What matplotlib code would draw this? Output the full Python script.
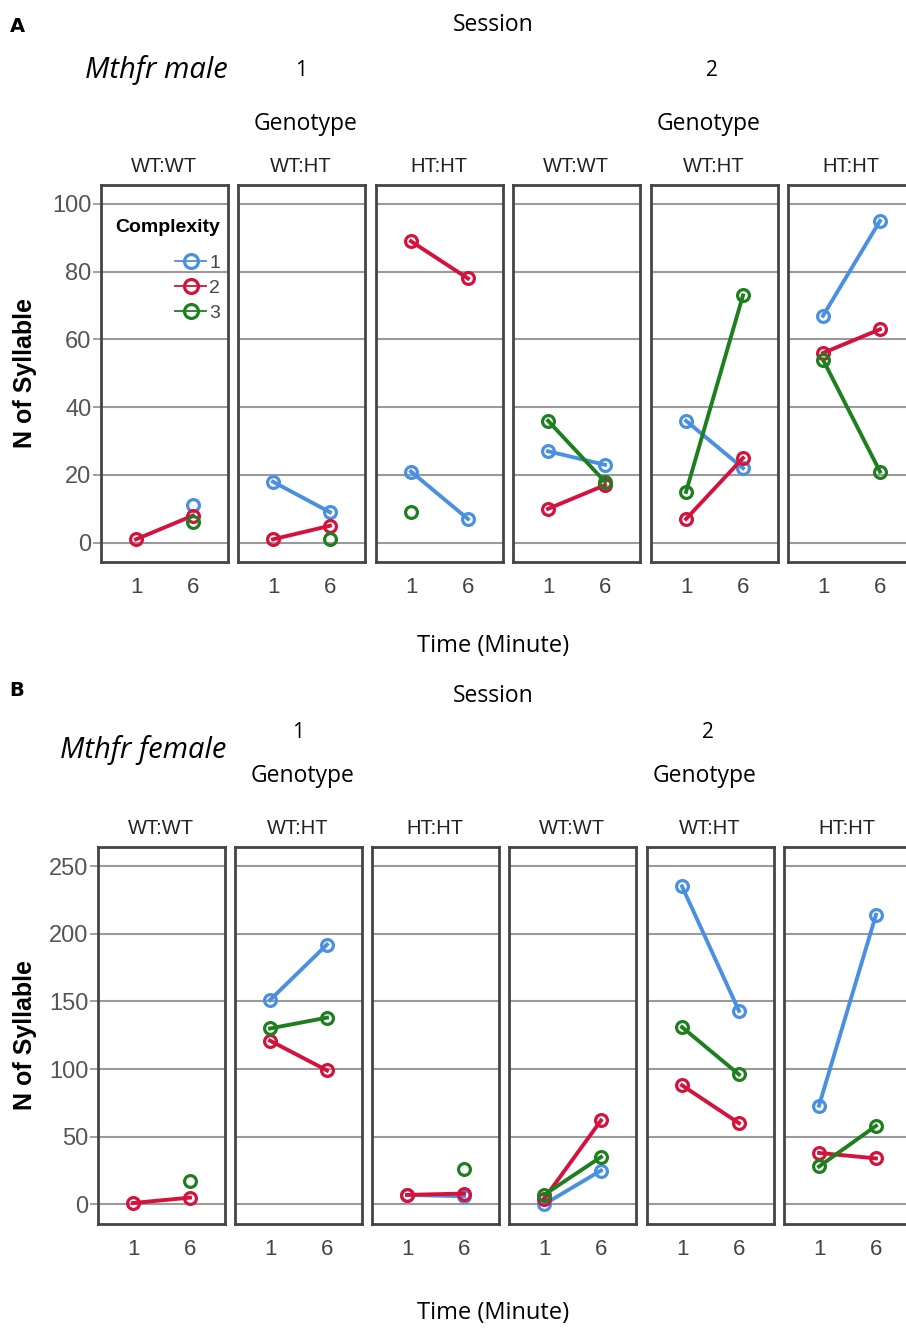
import numpy as np
import matplotlib
matplotlib.use("Agg")
import matplotlib.pyplot as plt
from matplotlib.lines import Line2D

nan = np.nan

# ---------------- data ----------------
genotypes = ["WT:WT", "WT:HT", "HT:HT", "WT:WT", "WT:HT", "HT:HT"]
sessions = ["1", "2"]
times = ["1", "6"]
complexity = ["1", "2", "3"]

# values at time 1 and time 6 for each of 6 panels (session 1: 3 genotypes, session 2: 3 genotypes)
male_c1 = [[nan, 11], [18, 9], [21, 7], [27, 23], [36, 22], [67, 95]]
male_c2 = [[1, 8], [1, 5], [89, 78], [10, 17], [7, 25], [56, 63]]
male_c3 = [[nan, 6], [nan, 1], [9, nan], [36, 18], [15, 73], [54, 21]]

female_c1 = [[nan, nan], [151, 192], [7, 6], [0, 25], [235, 143], [73, 214]]
female_c2 = [[1, 5], [121, 99], [7, 8], [4, 62], [88, 60], [38, 34]]
female_c3 = [[nan, 17], [130, 138], [nan, 26], [7, 35], [131, 96], [28, 58]]

male_yticks = [0, 20, 40, 60, 80, 100]
female_yticks = [0, 50, 100, 150, 200, 250]

colors = ["#4a90e2", "#d5123c", "#1d7f1d"]

W, H = 906, 1329
fig = plt.figure(figsize=(W / 100, H / 100), dpi=100)

NARROW = ["Liberation Sans Narrow", "Liberation Sans", "DejaVu Sans"]
CAL = ["Open Sans", "DejaVu Sans"]


def px_axes(left, top, width, height):
    return fig.add_axes([left / W, 1 - (top + height) / H, width / W, height / H])


def fx(x):
    return x / W


def fy(y):
    return 1 - y / H


def draw_block(series, lefts, top, bottom, ylim, yticks):
    axes = []
    for i, left in enumerate(lefts):
        ax = px_axes(left, top, 127, bottom - top)
        ax.set_xlim(-0.615, 1.615)
        ax.set_ylim(*ylim)
        for yt in yticks:
            ax.axhline(yt, color="#9a9a9a", lw=1.5, zorder=1)
        xs = np.arange(len(times))
        for c, vals in enumerate(series):
            v = np.array(vals[i], dtype=float)
            ax.plot(xs, v, color=colors[c], lw=2.8, marker="o", ms=8.5,
                    mfc="none", mec=colors[c], mew=2.3, zorder=3 + c)
        ax.set_xticks(xs)
        ax.set_xticklabels(times, fontsize=16, color="#444444", family=NARROW)
        ax.tick_params(axis="x", length=0, pad=11)
        for s in ax.spines.values():
            s.set_color("#444444")
            s.set_linewidth(2)
        if i == 0:
            ax.set_yticks(yticks)
            ax.set_yticklabels([str(t) for t in yticks], fontsize=17,
                               color="#555555", family=NARROW)
            ax.tick_params(axis="y", length=6, width=1.3, color="#9a9a9a", pad=1)
        else:
            ax.set_yticks([])
        axes.append(ax)
    return axes


# ---------------- panel A ----------------
lefts_A = [101, 238, 376, 513, 651, 788]
axA = draw_block([male_c1, male_c2, male_c3], lefts_A, 185, 562,
                 (-5.7, 105.6), male_yticks)
# ---------------- panel B ----------------
lefts_B = [98, 235, 372, 509, 647, 784]
axB = draw_block([female_c1, female_c2, female_c3], lefts_B, 847, 1224,
                 (-14.5, 264.1), female_yticks)

# legend in first male panel
ax0 = axA[0]
handles = [Line2D([0], [0], color=colors[c], lw=1.3, marker="o", ms=10,
                  mfc="none", mec=colors[c], mew=2.3) for c in range(3)]
leg = ax0.legend(handles, complexity, title="Complexity", loc="upper right",
                 bbox_to_anchor=(1.03, 0.94), frameon=False, handlelength=1.6,
                 handletextpad=0.15, labelspacing=0.38, borderaxespad=0.2,
                 prop={"family": NARROW, "size": 14}, labelcolor="#444444")
leg.get_title().set_fontweight("bold")
leg.get_title().set_fontsize(14)
leg.get_title().set_family(NARROW)
leg._legend_box.align = "right"
leg._legend_box.sep = 13

# ---------------- texts ----------------
def add_headers(letter, sess_y, num_y, geno_y, glab_y, time_y, title, title_xy,
                letter_y, lefts, ylab_y):
    fig.text(fx(17), fy(letter_y), letter,
             fontsize=14, fontweight="bold", ha="center", va="center", family="DejaVu Sans")
    fig.text(fx(493), fy(sess_y), "Session", fontsize=16.5, ha="center", va="center", family=CAL)
    fig.text(fx(lefts[1] + 63), fy(num_y), "1", fontsize=15, ha="center", va="center", family=CAL)
    fig.text(fx(lefts[4] + 61), fy(num_y), "2", fontsize=15, ha="center", va="center", family=CAL)
    fig.text(fx(lefts[1] + 68), fy(geno_y), "Genotype", fontsize=16.5, ha="center", va="center", family=CAL)
    fig.text(fx(lefts[4] + 58), fy(geno_y), "Genotype", fontsize=16.5, ha="center", va="center", family=CAL)
    for g, l in zip(genotypes, lefts):
        fig.text(fx(l + 63), fy(glab_y), g, fontsize=14.5, ha="center", va="center",
                 family=NARROW, color="#222222")
    fig.text(fx(title_xy[0]), fy(title_xy[1]), title, fontsize=21, style="italic",
             ha="left", va="center", family=CAL)
    fig.text(fx(493), fy(time_y), "Time (Minute)", fontsize=17, ha="center", va="center", family=CAL)
    fig.text(fx(25), fy(ylab_y), "N of Syllable", fontsize=18, fontweight="bold",
             rotation=90, ha="center", va="center", family=["Liberation Sans", "DejaVu Sans"])


add_headers("A", 25, 70, 124, 166, 646, "Mthfr male", (85, 70), 27, lefts_A, 373)
add_headers("B", 696, 733, 776, 828, 1313, "Mthfr female", (60, 750), 691, lefts_B, 1035)

fig.savefig("out.png", dpi=100)
